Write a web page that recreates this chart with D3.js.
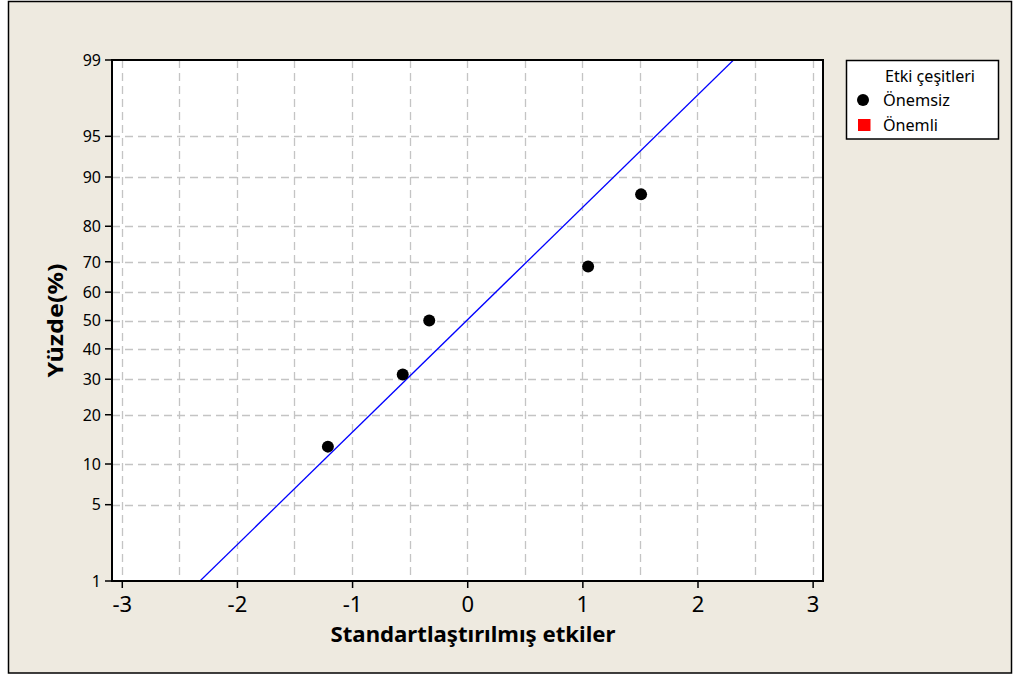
<!DOCTYPE html>
<html>
<head>
<meta charset="utf-8">
<script src="https://cdn.jsdelivr.net/npm/d3@7"></script>
<style>
  html, body { margin: 0; padding: 0; background: #ffffff; }
  svg { display: block; }
</style>
</head>
<body>
<svg id="chart" width="1013" height="675"></svg>
<script>
// Standardized effects and their normal plotting percentages
const effects  = [-1.21, -0.56, -0.33, 1.05, 1.51];
const percents = [13.0, 31.5, 50.0, 68.5, 87.0];

// Reference line (normal distribution of the effects)
const lineMean = -0.004;
const lineSd   = 0.996;

// Axis ticks
const xTicks = [-3, -2, -1, 0, 1, 2, 3];
const xGrid  = [-3, -2.5, -2, -1.5, -1, -0.5, 0, 0.5, 1, 1.5, 2, 2.5, 3];
const yTicks = [1, 5, 10, 20, 30, 40, 50, 60, 70, 80, 90, 95, 99];

const legendTitle = "Etki çeşitleri";
const legendItems = [
  { label: "Önemsiz", shape: "circle", color: "#000000", width: 67 },
  { label: "Önemli",  shape: "square", color: "#ff0000", width: 55 }
];

const xTitle = "Standartlaştırılmış etkiler";
const yTitle = "Yüzde(%)";

// Inverse standard normal CDF (Acklam's rational approximation)
function probit(p) {
  const a = [-3.969683028665376e+01, 2.209460984245205e+02, -2.759285104469687e+02,
             1.383577518672690e+02, -3.066479806614716e+01, 2.506628277459239e+00];
  const b = [-5.447609879822406e+01, 1.615858368580409e+02, -1.556989798598866e+02,
             6.680131188771972e+01, -1.328068155288572e+01];
  const c = [-7.784894002430293e-03, -3.223964580411365e-01, -2.400758277161838e+00,
             -2.549732539343734e+00, 4.374664141464968e+00, 2.938163982698783e+00];
  const d = [7.784695709041462e-03, 3.224671290700398e-01, 2.445134137142996e+00,
             3.754408661907416e+00];
  const pl = 0.02425, ph = 1 - pl;
  let q, r;
  if (p < pl) {
    q = Math.sqrt(-2 * Math.log(p));
    return (((((c[0]*q+c[1])*q+c[2])*q+c[3])*q+c[4])*q+c[5]) /
           ((((d[0]*q+d[1])*q+d[2])*q+d[3])*q+1);
  }
  if (p <= ph) {
    q = p - 0.5; r = q * q;
    return (((((a[0]*r+a[1])*r+a[2])*r+a[3])*r+a[4])*r+a[5])*q /
           (((((b[0]*r+b[1])*r+b[2])*r+b[3])*r+b[4])*r+1);
  }
  q = Math.sqrt(-2 * Math.log(1 - p));
  return -(((((c[0]*q+c[1])*q+c[2])*q+c[3])*q+c[4])*q+c[5]) /
          ((((d[0]*q+d[1])*q+d[2])*q+d[3])*q+1);
}

const W = 1013, H = 675;
const plot = { left: 112, top: 60, right: 823, bottom: 581 };
const FONT = "'Noto Sans', 'DejaVu Sans', sans-serif";

const svg = d3.select("#chart");

// Background and outer frame
svg.append("rect").attr("x", 0).attr("y", 0).attr("width", W).attr("height", H).attr("fill", "#ffffff");
svg.append("rect").attr("x", 8.5).attr("y", 1.5).attr("width", 1003).attr("height", 671.5)
  .attr("fill", "#eeeae0").attr("stroke", "#000").attr("stroke-width", 1.5);

const x = d3.scaleLinear().domain([-3.085, 3.09]).range([plot.left, plot.right]);
const zTop = probit(0.99), zBot = probit(0.01);
const yz = d3.scaleLinear().domain([zBot, zTop]).range([plot.bottom, plot.top]);
const y = p => yz(probit(p / 100));

// Plot area
svg.append("rect")
  .attr("x", plot.left).attr("y", plot.top)
  .attr("width", plot.right - plot.left).attr("height", plot.bottom - plot.top)
  .attr("fill", "#ffffff");

// Grid
const grid = svg.append("g").attr("stroke", "#c4c4c4").attr("stroke-width", 1.3)
  .attr("stroke-dasharray", "8,5").attr("fill", "none");
xGrid.forEach(v => {
  const px = Math.round(x(v)) + 0.5;
  grid.append("line").attr("x1", px).attr("x2", px)
    .attr("y1", plot.top).attr("y2", plot.bottom);
});
yTicks.filter(v => v > 1 && v < 99).forEach(v => {
  const py = Math.round(y(v)) + 0.5;
  grid.append("line").attr("x1", plot.left).attr("x2", plot.right)
    .attr("y1", py).attr("y2", py);
});

// Fitted normal line, clipped to the plot area
svg.append("clipPath").attr("id", "plotClip").append("rect")
  .attr("x", plot.left).attr("y", plot.top)
  .attr("width", plot.right - plot.left).attr("height", plot.bottom - plot.top);
const zs = [zBot - 0.05, zTop + 0.05];
svg.append("path")
  .attr("clip-path", "url(#plotClip)")
  .attr("d", d3.line().x(z => x(lineMean + lineSd * z)).y(z => yz(z))(zs))
  .attr("fill", "none").attr("stroke", "#0000ff").attr("stroke-width", 1.3);

// Plot frame
svg.append("rect")
  .attr("x", plot.left).attr("y", plot.top)
  .attr("width", plot.right - plot.left).attr("height", plot.bottom - plot.top)
  .attr("fill", "none").attr("stroke", "#000").attr("stroke-width", 2);

// X axis
const xAxis = svg.append("g").attr("transform", `translate(0,${plot.bottom})`)
  .call(d3.axisBottom(x).tickValues(xTicks).tickSize(7).tickPadding(6)
    .tickFormat(d => d < 0 ? "-" + Math.abs(d) : String(d)));
xAxis.select(".domain").remove();
xAxis.selectAll("line").attr("stroke", "#000").attr("stroke-width", 1.5);
xAxis.selectAll("text").attr("font-family", FONT).attr("font-size", 22).attr("fill", "#000")
  .attr("y", 31).attr("dy", 0);

// Y axis (normal probability scale)
const yAxis = svg.append("g").attr("transform", `translate(${plot.left},0)`);
yTicks.forEach(v => {
  const py = y(v);
  yAxis.append("line").attr("x1", -7).attr("x2", 0).attr("y1", py).attr("y2", py)
    .attr("stroke", "#000").attr("stroke-width", 1.5);
  yAxis.append("text").attr("x", -11).attr("y", py).attr("dy", "0.36em")
    .attr("text-anchor", "end").attr("font-family", FONT).attr("font-size", 16)
    .attr("fill", "#000").text(v);
});

// Data points
svg.append("g").selectAll("circle").data(effects).join("circle")
  .attr("cx", d => x(d)).attr("cy", (d, i) => y(percents[i]))
  .attr("r", 6).attr("fill", "#000");

// Axis titles
svg.append("text").attr("x", 473).attr("y", 642)
  .attr("text-anchor", "middle").attr("font-family", FONT).attr("font-weight", "bold")
  .attr("font-size", 22).attr("textLength", 285).attr("lengthAdjust", "spacingAndGlyphs")
  .attr("fill", "#000").text(xTitle);
svg.append("text").attr("transform", `translate(63,${(plot.top + plot.bottom) / 2}) rotate(-90)`)
  .attr("text-anchor", "middle").attr("font-family", FONT).attr("font-weight", "bold")
  .attr("font-size", 22).attr("textLength", 114).attr("lengthAdjust", "spacingAndGlyphs")
  .attr("fill", "#000").text(yTitle);

// Legend
const lg = svg.append("g");
lg.append("rect").attr("x", 846.5).attr("y", 60.5).attr("width", 152).attr("height", 78.5)
  .attr("fill", "#ffffff").attr("stroke", "#000").attr("stroke-width", 1.5);
lg.append("text").attr("x", 885).attr("y", 81.5).attr("font-family", FONT)
  .attr("font-size", 16.5).attr("textLength", 90).attr("lengthAdjust", "spacingAndGlyphs")
  .attr("fill", "#000").text(legendTitle);
legendItems.forEach((it, i) => {
  const cy = 100 + i * 25;
  if (it.shape === "circle") {
    lg.append("circle").attr("cx", 863).attr("cy", cy).attr("r", 6).attr("fill", it.color);
  } else {
    lg.append("rect").attr("x", 858).attr("y", cy - 6).attr("width", 12.5).attr("height", 12)
      .attr("fill", it.color);
  }
  lg.append("text").attr("x", 883).attr("y", cy).attr("dy", "0.36em")
    .attr("font-family", FONT).attr("font-size", 16.5)
    .attr("textLength", it.width).attr("lengthAdjust", "spacingAndGlyphs")
    .attr("fill", "#000").text(it.label);
});
</script>
</body>
</html>
